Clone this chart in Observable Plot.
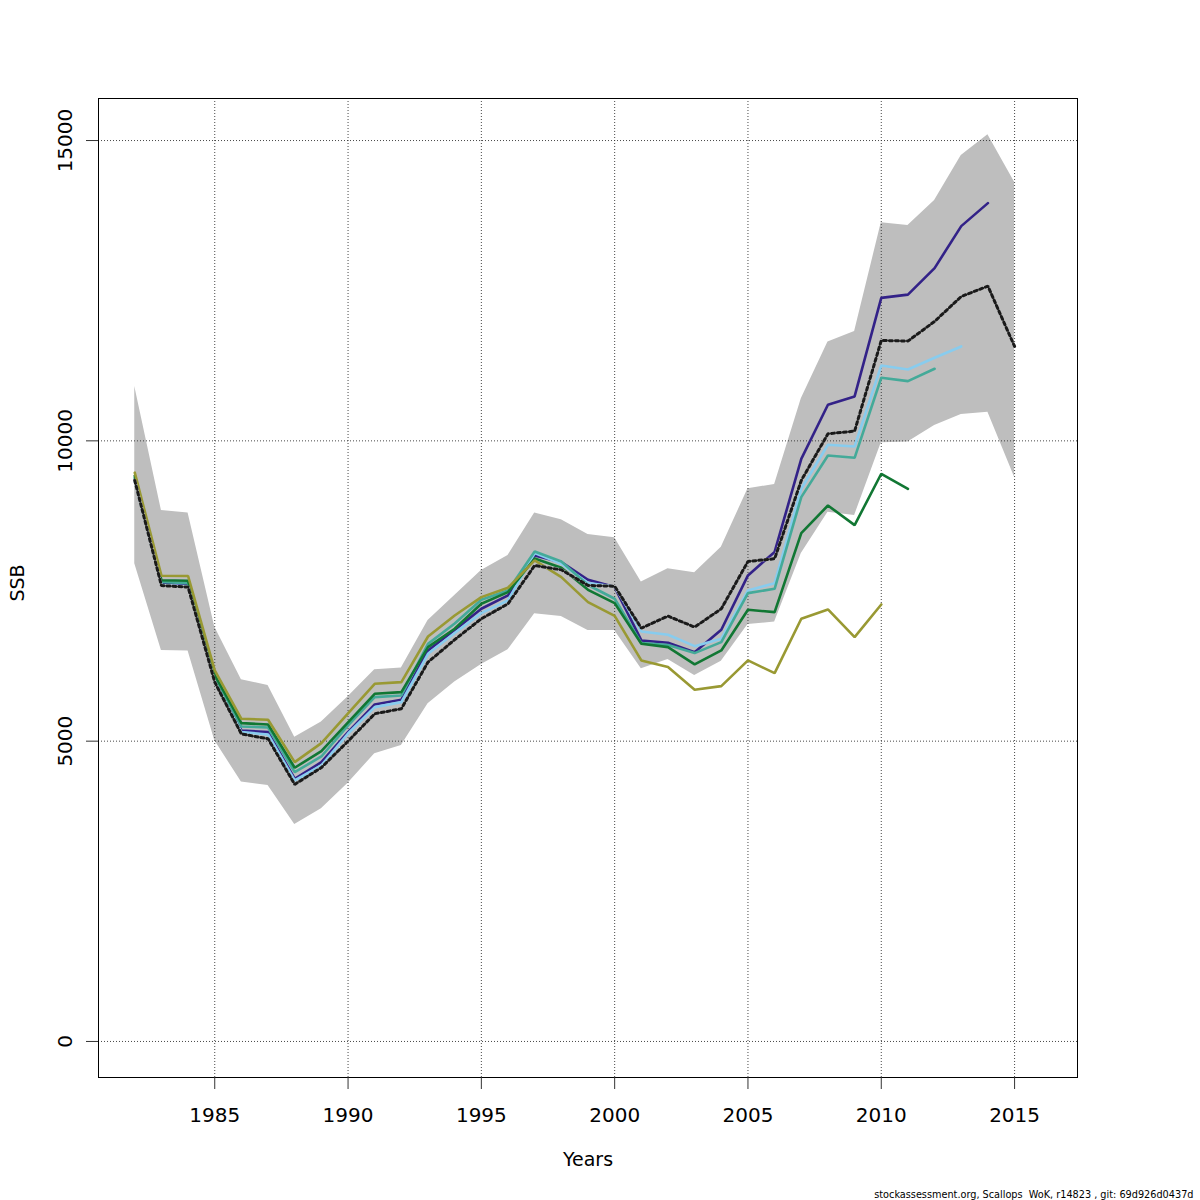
<!DOCTYPE html>
<html>
<head>
<meta charset="utf-8">
<script src="https://cdn.jsdelivr.net/npm/d3@7"></script>
<script src="https://cdn.jsdelivr.net/npm/@observablehq/plot@0.6"></script>
<style>
  html, body { margin: 0; padding: 0; background: #fff; }
  #chart svg { display: block; }
</style>
</head>
<body>
<div id="chart"></div>
<script>
// ---- data ----
const years = d3.range(1982, 2016);

const ssbFinal = [9340, 7590, 7565, 5983, 5120, 5040, 4280, 4560, 5000, 5456,
  5540, 6316, 6690, 7038, 7287, 7925, 7853, 7592, 7580, 6882,
  7082, 6899, 7204, 7992, 8037, 9341, 10118, 10162, 11672, 11661,
  11988, 12404, 12576, 11572];

const ciHigh = [10906, 8841, 8797, 6899, 6022, 5928, 5067, 5317, 5740, 6189,
  6216, 7010, 7426, 7842, 8092, 8797, 8686, 8442, 8386, 7648,
  7870, 7803, 8230, 9202, 9274, 10701, 11644, 11822, 13631, 13586,
  14003, 14752, 15097, 14307];

const ciLow = [7953, 6510, 6499, 5012, 4318, 4262, 3613, 3874, 4300, 4790,
  4928, 5623, 5983, 6277, 6521, 7120, 7076, 6843, 6843, 6205,
  6360, 6094, 6330, 6943, 6982, 8125, 8813, 8758, 9968, 9979,
  10257, 10440, 10478, 9396];

// retrospective peels (end years 2014, 2013, 2012, 2011, 2010)
const retro2014 = [9360, 7620, 7600, 6020, 5178, 5150, 4374, 4650, 5150, 5611,
  5690, 6510, 6850, 7204, 7426, 8092, 7981, 7687, 7565, 6677,
  6638, 6482, 6855, 7759, 8150, 9701, 10601, 10740, 12380, 12435,
  12876, 13575, 13958];
const retro2013 = [9330, 7600, 7580, 6000, 5150, 5111, 4346, 4595, 5128, 5567,
  5650, 6455, 6800, 7131, 7343, 8131, 7953, 7631, 7576, 6827,
  6771, 6582, 6705, 7509, 7631, 9202, 9935, 9907, 11255, 11189,
  11384, 11572];
const retro2012 = [9390, 7650, 7630, 6060, 5245, 5228, 4484, 4745, 5262, 5733,
  5761, 6620, 6960, 7354, 7509, 8158, 7990, 7600, 7371, 6632,
  6600, 6466, 6649, 7465, 7537, 9063, 9757, 9718, 11050, 10995,
  11200];
const retro2011 = [9420, 7680, 7670, 6100, 5300, 5278, 4557, 4834, 5311, 5789,
  5816, 6566, 6872, 7287, 7481, 8042, 7887, 7520, 7298, 6621,
  6566, 6277, 6510, 7187, 7148, 8464, 8924, 8597, 9452, 9199];
const retro2010 = [9470, 7755, 7750, 6177, 5373, 5356, 4650, 4967, 5461, 5955,
  5983, 6743, 7093, 7398, 7554, 8009, 7731, 7315, 7085, 6344,
  6233, 5855, 5916, 6344, 6132, 7038, 7193, 6732, 7276];

const retroNames = ["2014", "2013", "2012", "2011", "2010"];
const retroColors = ["#332288", "#88CCEE", "#44AA99", "#117733", "#999933"];
const retroSeries = [retro2014, retro2013, retro2012, retro2011, retro2010];

const xTicks = [1985, 1990, 1995, 2000, 2005, 2010, 2015];
const yTicks = [0, 5000, 10000, 15000];

const xLabel = "Years";
const yLabel = "SSB";
const footer = "stockassessment.org, Scallops  WoK, r14823 , git: 69d926d0437d";

// ---- tables ----
const band = years.map((year, i) => ({year, lo: ciLow[i], hi: ciHigh[i]}));
const finalRows = years.map((year, i) => ({year, ssb: ssbFinal[i]}));
const retroRows = retroSeries.map((arr, k) =>
  arr.map((v, i) => ({year: years[i], ssb: v, peel: retroNames[k]})));

const FONT = "DejaVu Sans, sans-serif";

const marks = [
  Plot.areaY(band, {x: "year", y1: "lo", y2: "hi", fill: "#bebebe", curve: "linear"}),
  Plot.gridX(xTicks, {stroke: "#333", strokeOpacity: 0.9, strokeDasharray: "1,2", strokeWidth: 1}),
  Plot.gridY(yTicks, {stroke: "#333", strokeOpacity: 0.9, strokeDasharray: "1,2", strokeWidth: 1}),
  ...retroRows.map((rows, k) =>
    Plot.line(rows, {x: "year", y: "ssb", stroke: retroColors[k], strokeWidth: 2.6, strokeLinejoin: "miter"})),
  Plot.line(finalRows, {x: "year", y: "ssb", stroke: "#c8c8c8", strokeWidth: 3, strokeLinejoin: "miter"}),
  Plot.line(finalRows, {x: "year", y: "ssb", stroke: "#1a1a1a", strokeWidth: 3, strokeDasharray: "3,3", strokeLinejoin: "miter"}),
  Plot.frame({stroke: "#000", strokeWidth: 1}),
  Plot.axisX(xTicks, {tickSize: 12, tickFormat: () => "", stroke: "#333", label: null}),
  Plot.axisY(yTicks, {tickSize: 12, tickFormat: () => "", stroke: "#333", label: null}),
  Plot.text(xTicks, {x: d => d, text: d => String(d), frameAnchor: "bottom", dy: 44, lineAnchor: "bottom",
    fontSize: 20, fontFamily: FONT, fill: "#000"}),
  Plot.text(yTicks, {y: d => d, text: d => String(d), frameAnchor: "left", dx: -27, rotate: -90,
    textAnchor: "middle", lineAnchor: "bottom", fontSize: 20, fontFamily: FONT, fill: "#000"}),
  Plot.text([xLabel], {text: d => d, frameAnchor: "bottom", dy: 88, lineAnchor: "bottom",
    fontSize: 19, fontFamily: FONT, fill: "#000"}),
  Plot.text([yLabel], {text: d => d, frameAnchor: "left", dx: -75, dy: -5, rotate: -90, textAnchor: "middle",
    lineAnchor: "bottom", fontSize: 19, fontFamily: FONT, fill: "#000"}),
  Plot.text([footer], {text: d => d, frameAnchor: "bottom-right", dx: 116, dy: 120, textAnchor: "end",
    lineAnchor: "bottom", fontSize: 10.8, fontFamily: "Liberation Sans Narrow, DejaVu Sans Condensed, sans-serif", fill: "#000"})
];

const chart = Plot.plot({
  width: 1200,
  height: 1200,
  marginLeft: 98,
  marginRight: 123,
  marginTop: 98,
  marginBottom: 123,
  style: {fontFamily: FONT, background: "#fff", overflow: "visible"},
  x: {domain: [1980.64, 2017.36], label: null, axis: null},
  y: {domain: [-600, 15700], label: null, axis: null},
  marks
});

document.getElementById("chart").appendChild(chart);
</script>
</body>
</html>
